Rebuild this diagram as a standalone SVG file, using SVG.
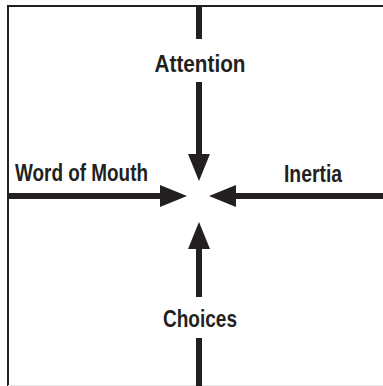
<svg xmlns="http://www.w3.org/2000/svg" width="383" height="386" viewBox="0 0 383 386">
  <style>
    .frame { fill: none; stroke: #231f20; stroke-width: 2; }
    .shaft { stroke: #231f20; stroke-width: 6; fill: none; }
    .lbl { font-family: "Liberation Sans", Arial, sans-serif; font-weight: bold; font-size: 24px; fill: #231f20; }
  </style>
  <defs>
    <marker id="head" markerUnits="userSpaceOnUse" markerWidth="27" markerHeight="22" refX="2" refY="11" orient="auto" viewBox="0 0 27 22">
      <path d="M0,0 L27,11 L0,22 Z" fill="#231f20"/>
    </marker>
  </defs>
  <rect width="383" height="386" fill="#ffffff"/>
  <g id="frame">
    <path class="frame" d="M8,386 V6 H383"/>
    <line x1="8" y1="385.5" x2="383" y2="385.5" stroke="#e6e6e6" stroke-width="1"/>
  </g>
  <g id="connectors">
    <line class="shaft" x1="199" y1="6" x2="199" y2="39"/>
    <line class="shaft" x1="199" y1="82" x2="199" y2="156" marker-end="url(#head)"/>
    <line class="shaft" x1="199" y1="386" x2="199" y2="338"/>
    <line class="shaft" x1="199" y1="297" x2="199" y2="247" marker-end="url(#head)"/>
    <line class="shaft" x1="8" y1="196" x2="162" y2="196" marker-end="url(#head)"/>
    <line class="shaft" x1="383" y1="196" x2="234" y2="196" marker-end="url(#head)"/>
  </g>
  <g id="attention">
    <text class="lbl" x="200" y="72" text-anchor="middle" textLength="91" lengthAdjust="spacingAndGlyphs">Attention</text>
  </g>
  <g id="word-of-mouth">
    <text class="lbl" x="15" y="181" textLength="133" lengthAdjust="spacingAndGlyphs">Word of Mouth</text>
  </g>
  <g id="inertia">
    <text class="lbl" x="284" y="182" textLength="58" lengthAdjust="spacingAndGlyphs">Inertia</text>
  </g>
  <g id="choices">
    <text class="lbl" x="200" y="327" text-anchor="middle" textLength="74" lengthAdjust="spacingAndGlyphs">Choices</text>
  </g>
</svg>
